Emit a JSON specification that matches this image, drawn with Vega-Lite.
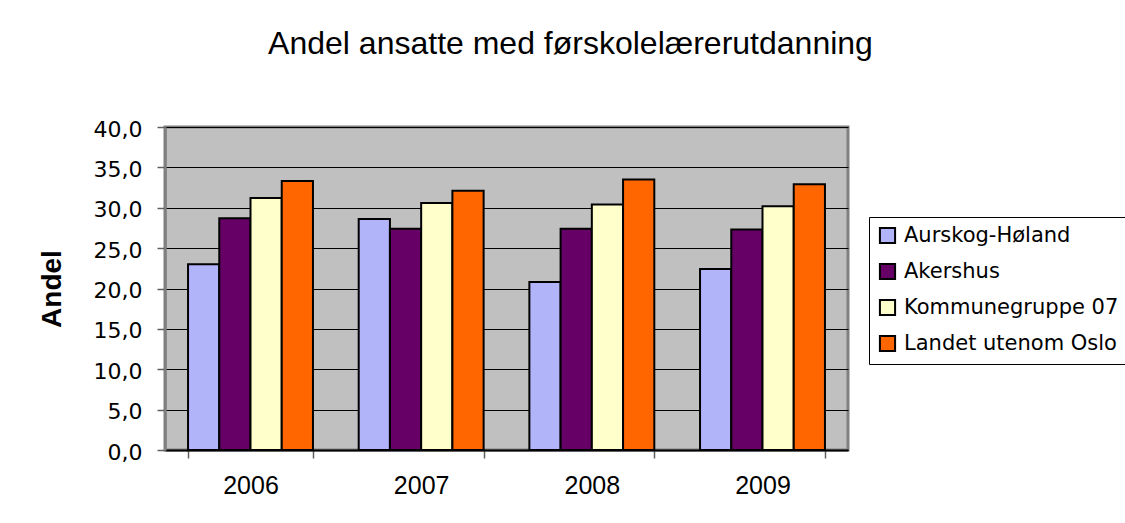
{
  "$schema": "https://vega.github.io/schema/vega-lite/v6.json",
  "autosize": {"type": "none"},
  "width": 683,
  "height": 323,
  "padding": {"left": 165, "top": 127, "right": 277, "bottom": 73},
  "background": "white",
  "title": {
    "text": "Andel ansatte med førskolelærerutdanning",
    "font": "Liberation Sans",
    "fontSize": 32,
    "fontWeight": "normal",
    "color": "black",
    "anchor": "middle",
    "baseline": "alphabetic",
    "dx": 64,
    "offset": 32
  },
  "data": {
    "values": [
      {"year": "2006", "series": "Aurskog-Høland", "value": 23.0},
      {"year": "2006", "series": "Akershus", "value": 28.7},
      {"year": "2006", "series": "Kommunegruppe 07", "value": 31.2},
      {"year": "2006", "series": "Landet utenom Oslo", "value": 33.3},
      {"year": "2007", "series": "Aurskog-Høland", "value": 28.6},
      {"year": "2007", "series": "Akershus", "value": 27.4},
      {"year": "2007", "series": "Kommunegruppe 07", "value": 30.6},
      {"year": "2007", "series": "Landet utenom Oslo", "value": 32.1},
      {"year": "2008", "series": "Aurskog-Høland", "value": 20.8},
      {"year": "2008", "series": "Akershus", "value": 27.4},
      {"year": "2008", "series": "Kommunegruppe 07", "value": 30.4},
      {"year": "2008", "series": "Landet utenom Oslo", "value": 33.5},
      {"year": "2009", "series": "Aurskog-Høland", "value": 22.4},
      {"year": "2009", "series": "Akershus", "value": 27.3},
      {"year": "2009", "series": "Kommunegruppe 07", "value": 30.2},
      {"year": "2009", "series": "Landet utenom Oslo", "value": 32.9}
    ]
  },
  "mark": {"type": "bar", "stroke": "black", "strokeWidth": 2, "opacity": 1},
  "encoding": {
    "x": {
      "field": "year",
      "type": "nominal",
      "scale": {"paddingInner": 0.268, "paddingOuter": 0.135},
      "axis": {
        "title": null,
        "labelAngle": 0,
        "labelFont": "Liberation Sans",
        "labelFontSize": 25,
        "labelColor": "black",
        "labelPadding": 15,
        "ticks": true,
        "tickBand": "extent",
        "tickColor": "#606060",
        "tickWidth": 1.5,
        "tickSize": 8,
        "domain": true,
        "domainColor": "black",
        "domainWidth": 2,
        "grid": false
      }
    },
    "xOffset": {
      "field": "series",
      "type": "nominal",
      "sort": ["Aurskog-Høland", "Akershus", "Kommunegruppe 07", "Landet utenom Oslo"],
      "scale": {"paddingInner": 0, "paddingOuter": 0}
    },
    "y": {
      "field": "value",
      "type": "quantitative",
      "scale": {"domain": [0, 40], "nice": false},
      "axis": {
        "title": "Andel",
        "titleFont": "Liberation Sans",
        "titleFontSize": 28,
        "titleFontWeight": "bold",
        "titleColor": "black",
        "titlePadding": 27,
        "values": [0, 5, 10, 15, 20, 25, 30, 35, 40],
        "labelExpr": "replace(format(datum.value, '.1f'), '.', ',')",
        "labelFont": "DejaVu Sans",
        "labelFontSize": 22,
        "labelColor": "black",
        "labelPadding": 15,
        "labelBaseline": "middle",
        "labelOffset": 2,
        "tickColor": "#606060",
        "tickWidth": 1.5,
        "tickSize": 8,
        "domainColor": "#808080",
        "domainWidth": 2.5,
        "grid": true,
        "gridColor": "black",
        "gridWidth": 1,
        "gridOpacity": 1
      }
    },
    "color": {
      "field": "series",
      "type": "nominal",
      "sort": ["Aurskog-Høland", "Akershus", "Kommunegruppe 07", "Landet utenom Oslo"],
      "scale": {
        "domain": ["Aurskog-Høland", "Akershus", "Kommunegruppe 07", "Landet utenom Oslo"],
        "range": ["#b2b4fa", "#660066", "#ffffcc", "#ff6600"]
      },
      "legend": {
        "title": null,
        "orient": "none",
        "legendX": 704,
        "legendY": 90,
        "direction": "vertical",
        "fillColor": "white",
        "strokeColor": "black",
        "padding": 8,
        "labelFont": "DejaVu Sans",
        "labelFontSize": 21,
        "labelColor": "black",
        "labelLimit": 300,
        "symbolType": "square",
        "symbolSize": 230,
        "symbolStrokeColor": "black",
        "symbolStrokeWidth": 2,
        "symbolOpacity": 1,
        "rowPadding": 11,
        "labelOffset": 6
      }
    }
  },
  "config": {
    "view": {"fill": "#c0c0c0", "stroke": "#808080", "strokeWidth": 3}
  }
}
